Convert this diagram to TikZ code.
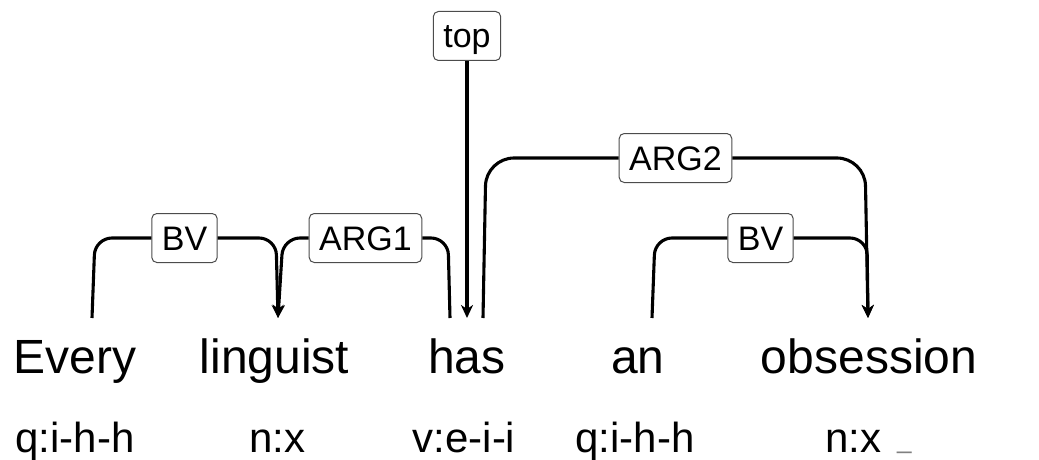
\documentclass[tikz,border=0pt]{standalone}
\usepackage{fontspec}
\setmainfont{Liberation Sans}
\usetikzlibrary{arrows.meta,calc}
\begin{document}
\begin{tikzpicture}[x=1pt,y=-1pt,
  word/.style={anchor=base,inner sep=0pt,font=\fontsize{48}{50}\selectfont},
  tag/.style={anchor=base,inner sep=0pt,font=\fontsize{42}{44}\selectfont},
  rel/.style={draw=black!70,line width=1pt,rounded corners=5pt,fill=white,
    font=\fontsize{34}{36}\selectfont,text height=30pt,text depth=6pt,
    inner xsep=10pt,inner ysep=6.5pt},
  edge/.style={line width=3.1pt,rounded corners=17pt},
  arc/.style={edge,-{Stealth[length=13pt,width=12pt,inset=4pt]}},
  wide/.style={rounded corners=28pt}]
\useasboundingbox (0,0) rectangle (1039,460);

% words
\node[word] (w1) at (75,373) {Every};
\node[word] (w2) at (274.5,373) {linguist};
\node[word] (w3) at (467,373) {has};
\node[word] (w4) at (638,373) {an};
\node[word] (w5) at (869,373) {obsession};

% predicate tags
\node[tag] (t1) at (75,452) {q:i-h-h};
\node[tag] (t2) at (277.5,452) {n:x};
\node[tag] (t3) at (464,452) {v:e-i-i};
\node[tag] (t4) at (635,452) {q:i-h-h};
\node[tag] (t5) at (853.5,452) {n:x};
\node[anchor=base west,inner sep=0pt,font=\fontsize{26}{28}\selectfont,text=gray] (t5u) at (897,448) {\_};

% relation labels
\node[rel] (bv1) at (184.5,238) {BV};
\node[rel] (arg1) at (365.5,238) {ARG1};
\node[rel] (top) at (467,36) {top};
\node[rel] (arg2) at (675.5,158) {ARG2};
\node[rel] (bv2) at (760.5,238) {BV};

% attachment points above the words
\coordinate (every-out) at (92,318);
\coordinate (ling-in) at (278,318);
\coordinate (has-arg1) at (450,318);
\coordinate (has-in) at (467,318);
\coordinate (has-arg2) at (483,318);
\coordinate (an-out) at (652,318);
\coordinate (obs-in) at (868,318);

% BV: Every -> linguist
\draw[edge] (every-out) -- ([xshift=3pt]every-out |- bv1.west) -- (bv1.west);
\draw[arc] (bv1.east) -- ([xshift=-2pt]ling-in |- bv1.east) -- (ling-in);
% ARG1: has -> linguist
\draw[edge] (has-arg1) -- ([xshift=-2pt]has-arg1 |- arg1.east) -- (arg1.east);
\draw[arc] (arg1.west) -- ([xshift=5pt]ling-in |- arg1.west) -- (ling-in);
% top -> has
\draw[arc] (top.south) -- (has-in);
% ARG2: has -> obsession
\draw[edge,wide] (has-arg2) -- ([xshift=3pt]has-arg2 |- arg2.west) -- (arg2.west);
\draw[arc,wide] (arg2.east) -- ([xshift=-3pt]obs-in |- arg2.east) -- (obs-in);
% BV: an -> obsession
\draw[edge] (an-out) -- ([xshift=3pt]an-out |- bv2.west) -- (bv2.west);
\draw[arc] (bv2.east) -- ([xshift=-1pt]obs-in |- bv2.east) -- (obs-in);
\end{tikzpicture}
\end{document}
